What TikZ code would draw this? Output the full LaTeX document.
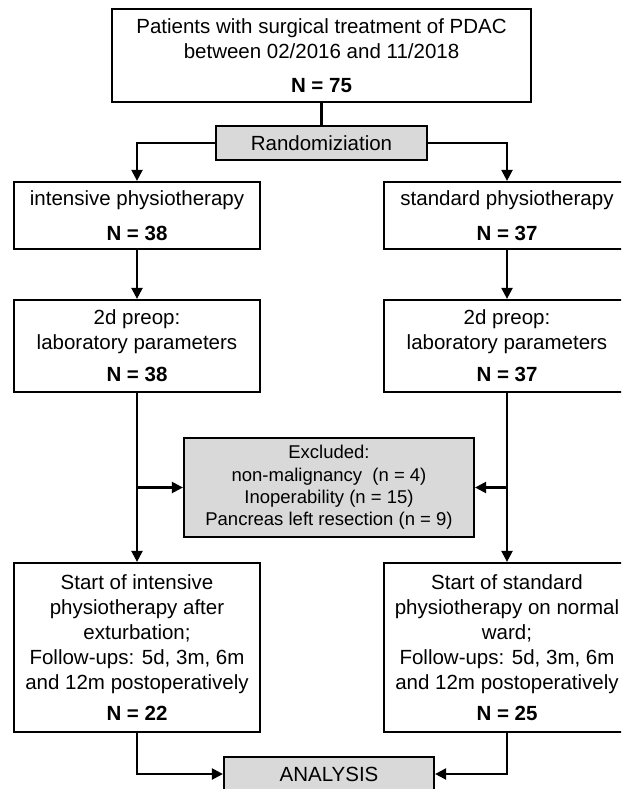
\documentclass[tikz,border=0pt]{standalone}
\usepackage{fontspec}
\setmainfont{Liberation Sans}
\usetikzlibrary{arrows.meta}
\definecolor{boxgray}{HTML}{D9D9D9}
\tikzset{
  flowbox/.style={draw=black, line width=2.2pt, fill=white, align=center, inner sep=0pt,
                  font=\fontsize{20.5}{25}\selectfont},
  graybox/.style={flowbox, fill=boxgray},
  exclbox/.style={graybox, font=\fontsize{18.5}{22.3}\selectfont},
  conn/.style={line width=2.2pt},
  arr/.style={conn, -{Triangle[length=11pt,width=11pt]}},
}
\begin{document}
\begin{tikzpicture}[x=1pt,y=-1pt]
\useasboundingbox (0,0) rectangle (621,789);
\clip (0,0) rectangle (621,789);
\fill[white] (0,0) rectangle (621,789);

\node[flowbox, minimum width=419pt, minimum height=93pt] (top) at (321.5,55.5)
  {Patients with surgical treatment of PDAC\\between 02/2016 and 11/2018\\[9pt]\textbf{N = 75}};
\node[graybox, minimum width=211pt, minimum height=34pt] (rand) at (321.5,143) {Randomiziation};

\node[flowbox, minimum width=246pt, minimum height=67pt] (l1) at (137,215.5)
  {intensive physiotherapy\\[10pt]\textbf{N = 38}};
\node[flowbox, minimum width=246pt, minimum height=67pt] (r1) at (507,215.5)
  {standard physiotherapy\\[10pt]\textbf{N = 37}};

\node[flowbox, minimum width=246pt, minimum height=92pt] (l2) at (137,346)
  {2d preop:\\laboratory parameters\\[7pt]\textbf{N = 38}};
\node[flowbox, minimum width=246pt, minimum height=92pt] (r2) at (507,346)
  {2d preop:\\laboratory parameters\\[7pt]\textbf{N = 37}};

\node[exclbox, minimum width=290pt, minimum height=99pt] (excl) at (329,487.5)
  {Excluded:\\non-malignancy~ (n = 4)\\Inoperability (n = 15)\\Pancreas left resection (n = 9)};

\node[flowbox, minimum width=246pt, minimum height=169pt] (l3) at (137,647.5)
  {Start of intensive\\physiotherapy after\\exturbation;\\Follow-ups: 5d, 3m, 6m\\and 12m postoperatively\\[6pt]\textbf{N = 22}};
\node[flowbox, minimum width=246pt, minimum height=169pt] (r3) at (507,647.5)
  {Start of standard\\physiotherapy on normal\\ward;\\Follow-ups: 5d, 3m, 6m\\and 12m postoperatively\\[6pt]\textbf{N = 25}};

\node[graybox, minimum width=210pt, minimum height=34pt] (ana) at (329,774) {ANALYSIS};

\draw[conn] (top) -- (rand);
\draw[arr] (rand.west) -| (l1.north);
\draw[arr] (rand.east) -| (r1.north);
\draw[arr] (l1) -- (l2);
\draw[arr] (r1) -- (r2);
\draw[arr] (l2) -- (l3);
\draw[arr] (r2) -- (r3);
\draw[arr] (l2.south |- excl.west) -- (excl.west);
\draw[arr] (r2.south |- excl.east) -- (excl.east);
\draw[arr] (l3.south) |- (ana.west);
\draw[arr] (r3.south) |- (ana.east);
\end{tikzpicture}
\end{document}
